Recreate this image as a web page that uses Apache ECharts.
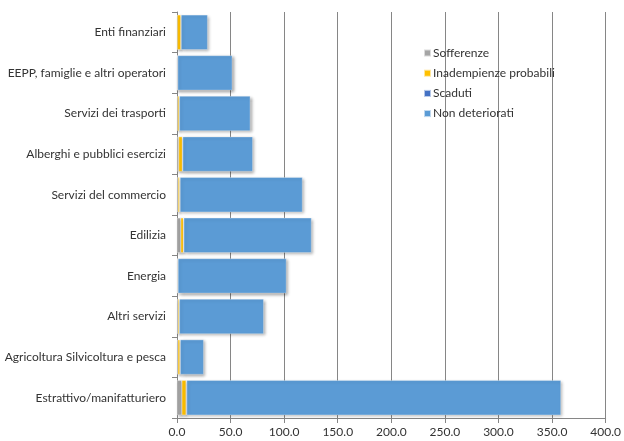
<!DOCTYPE html>
<html>
<head>
<meta charset="utf-8">
<script src="https://cdn.jsdelivr.net/npm/echarts@6/dist/echarts.min.js"></script>
<style>
  html, body { margin: 0; padding: 0; background: #fff; }
  #chart { width: 624px; height: 441px; }
</style>
</head>
<body>
<div id="chart"></div>
<script>
// Sectors, top to bottom
const categories = [
  'Enti finanziari',
  'EEPP, famiglie e altri operatori',
  'Servizi dei trasporti',
  'Alberghi e pubblici esercizi',
  'Servizi del commercio',
  'Edilizia',
  'Energia',
  'Altri servizi',
  'Agricoltura Silvicoltura e pesca',
  'Estrattivo/manifatturiero'
];

const sofferenze      = [0.2, 0.2, 0.5, 1.5, 1.0, 3.5, 0.3, 0.8, 0.8, 4.5];
const inadempienze    = [3.5, 0.3, 1.5, 3.5, 1.5, 2.5, 0.5, 1.2, 2.0, 4.0];
const scaduti         = [0.1, 0.1, 0.2, 0.3, 0.3, 0.3, 0.1, 0.2, 0.2, 0.5];
const nonDeteriorati  = [24.8, 51.0, 66.2, 65.4, 114.3, 119.2, 101.2, 78.7, 21.9, 349.3];

const xTicks = { min: 0, max: 400, interval: 50 };

const font = 'Lato, "Open Sans", sans-serif';

const seriesDefs = [
  { name: 'Sofferenze', data: sofferenze, color: '#A5A5A5' },
  { name: 'Inadempienze probabili', data: inadempienze, color: '#FFC000' },
  { name: 'Scaduti', data: scaduti, color: '#4472C4' },
  { name: 'Non deteriorati', data: nonDeteriorati, color: '#5B9BD5' }
];

const chart = echarts.init(document.getElementById('chart'), null, { renderer: 'canvas' });

chart.setOption({
  animation: false,
  backgroundColor: '#ffffff',
  textStyle: { fontFamily: font },
  grid: { left: 177, right: 16, top: 12, bottom: 23, containLabel: false },
  legend: {
    orient: 'vertical',
    left: 418,
    top: 42,
    itemWidth: 7,
    itemHeight: 7,
    itemGap: 8.2,
    icon: 'rect',
    textStyle: { fontFamily: font, fontSize: 12, color: '#333333', padding: [0, 0, 0, -3] },
    data: seriesDefs.map(s => s.name)
  },
  xAxis: {
    type: 'value',
    min: xTicks.min,
    max: xTicks.max,
    interval: xTicks.interval,
    axisLine: { show: true, lineStyle: { color: '#868686', width: 1 } },
    axisTick: { show: true, length: 5, lineStyle: { color: '#868686' } },
    axisLabel: {
      fontFamily: font, fontSize: 12, color: '#333333', margin: 8,
      formatter: v => v.toFixed(1)
    },
    splitLine: { show: true, lineStyle: { color: '#868686', width: 1 } }
  },
  yAxis: {
    type: 'category',
    inverse: true,
    data: categories,
    axisLine: { show: true, lineStyle: { color: '#868686', width: 1 } },
    axisTick: { show: true, length: 5, lineStyle: { color: '#868686' } },
    axisLabel: { fontFamily: font, fontSize: 12, color: '#333333', margin: 11 },
    splitLine: { show: false }
  },
  series: seriesDefs.map(s => ({
    name: s.name,
    type: 'bar',
    stack: 'tot',
    barCategoryGap: '14%',
    data: s.data,
    itemStyle: {
      color: s.color,
      borderColor: 'rgba(255,255,255,0.6)',
      borderWidth: 0.5,
      shadowColor: 'rgba(0,0,0,0.35)',
      shadowBlur: 3,
      shadowOffsetX: 1.5,
      shadowOffsetY: 1.5
    },
    emphasis: { disabled: true }
  }))
});
</script>
</body>
</html>
